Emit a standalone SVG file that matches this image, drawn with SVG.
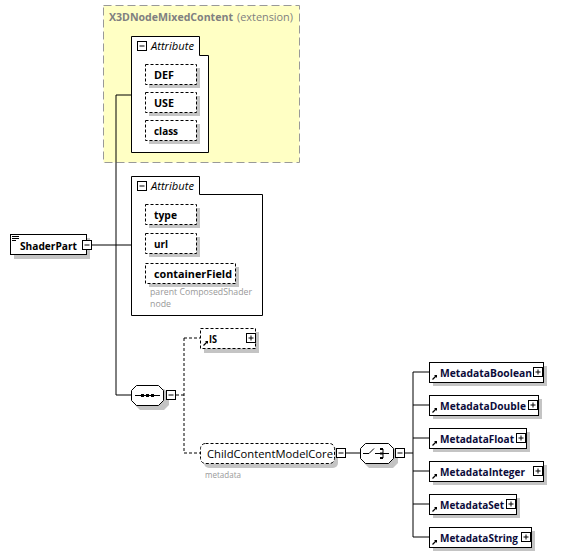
<svg xmlns="http://www.w3.org/2000/svg" width="571" height="556" viewBox="0 0 571 556">
<style>
.t{font-family:"Open Sans","Noto Sans","Liberation Sans",sans-serif;font-size:11px;fill:#000}
.b{font-weight:bold}
.nav{fill:#0b0b3a}
.g{fill:#808080}
.sm{font-size:9px;fill:#999}
.it{font-style:italic}
.box{fill:#fff;stroke:#000;stroke-width:1}
.dbox{fill:#fff;stroke:#000;stroke-width:1;stroke-dasharray:3,2}
.sh{fill:#c4c4c4}
.ln{fill:none;stroke:#000;stroke-width:1}
.dl{fill:none;stroke:#000;stroke-width:1;stroke-dasharray:3,2}
.pm{fill:#fff;stroke:#000;stroke-width:1}
</style>
<defs>
<g id="minus"><rect class="pm" x="0.5" y="0.5" width="9" height="9"/><path class="ln" d="M2.5,5H7.5"/></g>
<g id="plus"><rect class="pm" x="0.5" y="0.5" width="9" height="9"/><path class="ln" d="M2.5,5H7.5M5,2.5V7.5"/></g>
<g id="ref"><path d="M0.5,5.5L4,2" stroke="#000" stroke-width="1.2" fill="none"/><path d="M2,1H5V4Z" fill="#000"/></g>
</defs>

<g id="ext">
<rect x="103.5" y="5.5" width="196" height="157" fill="#ffffc4" stroke="#999" stroke-dasharray="8,4"/>
<text class="t b g" x="109" y="21" textLength="124" lengthAdjust="spacingAndGlyphs">X3DNodeMixedContent</text>
<text class="t g" x="237" y="21" textLength="56" lengthAdjust="spacingAndGlyphs">(extension)</text>
</g>

<g id="attr1">
<path class="box" d="M131.5,36.5H199.5V55.5H208.5V152.5H131.5Z"/>
<use href="#minus" x="137" y="41"/>
<text class="t it" x="151" y="50" textLength="43" lengthAdjust="spacingAndGlyphs">Attribute</text>
</g>
<g id="DEF"><rect class="sh" x="149" y="68" width="51" height="20"/><rect class="dbox" x="145.5" y="64.5" width="51" height="20"/><text class="t b" x="154" y="79" textLength="20" lengthAdjust="spacingAndGlyphs">DEF</text></g>
<g id="USE"><rect class="sh" x="149" y="96" width="51" height="20"/><rect class="dbox" x="145.5" y="92.5" width="51" height="20"/><text class="t b" x="154" y="107" textLength="20" lengthAdjust="spacingAndGlyphs">USE</text></g>
<g id="class"><rect class="sh" x="149" y="124" width="51" height="20"/><rect class="dbox" x="145.5" y="120.5" width="51" height="20"/><text class="t b" x="154" y="135" textLength="24" lengthAdjust="spacingAndGlyphs">class</text></g>

<g id="attr2">
<path class="box" d="M131.5,176.5H199.5V194.5H262.5V315.5H131.5Z"/>
<use href="#minus" x="137" y="181"/>
<text class="t it" x="151" y="190" textLength="43" lengthAdjust="spacingAndGlyphs">Attribute</text>
<text class="t sm" x="150" y="295" textLength="102" lengthAdjust="spacingAndGlyphs">parent ComposedShader</text>
<text class="t sm" x="150" y="307" textLength="21" lengthAdjust="spacingAndGlyphs">node</text>
</g>
<g id="type"><rect class="sh" x="149" y="208" width="51" height="20"/><rect class="dbox" x="145.5" y="204.5" width="51" height="20"/><text class="t b" x="154" y="219" textLength="23" lengthAdjust="spacingAndGlyphs">type</text></g>
<g id="url"><rect class="sh" x="149" y="237" width="51" height="20"/><rect class="dbox" x="145.5" y="233.5" width="51" height="20"/><text class="t b" x="154" y="248" textLength="14" lengthAdjust="spacingAndGlyphs">url</text></g>
<g id="containerField"><rect class="sh" x="149" y="267" width="90" height="20"/><rect class="dbox" x="145.5" y="263.5" width="90" height="20"/><text class="t b" x="154" y="278" textLength="78" lengthAdjust="spacingAndGlyphs">containerField</text></g>

<g id="ShaderPart">
<rect class="sh" x="14" y="238" width="76" height="21"/>
<rect class="box" x="10.5" y="234.5" width="76" height="20"/>
<path class="ln" d="M12,236.5H19M12,238.5H19M12,240.5H16"/>
<text class="t b" x="20" y="250" textLength="57" lengthAdjust="spacingAndGlyphs">ShaderPart</text>
<use href="#minus" x="82" y="240"/>
</g>

<g id="connectors">
<path class="ln" d="M92,245H132"/>
<path class="ln" d="M116,95V395M116,95H131M116,395H131"/>
<path class="dl" d="M176,395H184M184,338V453M184,338H200M184,453H200"/>
<path class="ln" d="M346,453H360M404,453H413M413,372V537M413,372H429M413,405H429M413,438H429M413,471H429M413,504H429M413,537H429"/>
</g>

<g id="sequence">
<path class="sh" d="M140,389H164L169,394V405L164,410H140L135,405V394Z"/>
<path class="box" d="M136.5,385.5H158.5L163.5,390.5V400.5L158.5,405.5H136.5L131.5,400.5V390.5Z"/>
<path class="ln" d="M135,395.5H160"/>
<rect x="141" y="394" width="3" height="3" fill="#000"/><rect x="146" y="394" width="3" height="3" fill="#000"/><rect x="151" y="394" width="3" height="3" fill="#000"/>
<use href="#minus" x="166" y="390"/>
</g>

<g id="IS">
<rect class="sh" x="204" y="332" width="55" height="21"/>
<rect class="dbox" x="200.5" y="328.5" width="55" height="20"/>
<use href="#ref" x="203" y="340"/>
<text class="t b" x="209" y="343" textLength="8" lengthAdjust="spacingAndGlyphs">IS</text>
<use href="#plus" x="246" y="333"/>
</g>

<g id="ChildContentModelCore">
<rect class="sh" x="204" y="447" width="134" height="21" rx="5"/>
<rect class="dbox" x="200.5" y="443.5" width="134" height="20" rx="5"/>
<text class="t" x="207" y="458" textLength="126" lengthAdjust="spacingAndGlyphs">ChildContentModelCore</text>
<text class="t sm" x="205" y="478" textLength="36" lengthAdjust="spacingAndGlyphs">metadata</text>
<use href="#minus" x="336" y="448"/>
</g>

<g id="choice">
<path class="sh" d="M369,447H393L398,452V463L393,468H369L364,463V452Z"/>
<path class="box" d="M365.5,443.5H388.5L393.5,448.5V458.5L388.5,463.5H365.5L360.5,458.5V448.5Z"/>
<path class="ln" d="M363,453.5H369L374,448.5M375,453.5H378M383,449V458M378,453.5H389"/>
<rect x="380" y="448" width="3" height="2" fill="#000"/><rect x="380" y="452.5" width="3" height="2" fill="#000"/><rect x="380" y="457" width="3" height="2" fill="#000"/>
<use href="#minus" x="395" y="448"/>
</g>

<g id="MetadataBoolean"><rect class="sh" x="433" y="366" width="114" height="20"/><rect class="box" x="429.5" y="362.5" width="114" height="20"/><use href="#ref" x="432" y="374"/><text class="t b nav" x="440" y="377" textLength="92" lengthAdjust="spacingAndGlyphs">MetadataBoolean</text><use href="#plus" x="533" y="367"/></g>
<g id="MetadataDouble"><rect class="sh" x="433" y="399" width="109" height="20"/><rect class="box" x="429.5" y="395.5" width="109" height="20"/><use href="#ref" x="432" y="407"/><text class="t b nav" x="440" y="410" textLength="86" lengthAdjust="spacingAndGlyphs">MetadataDouble</text><use href="#plus" x="528" y="400"/></g>
<g id="MetadataFloat"><rect class="sh" x="433" y="432" width="97" height="20"/><rect class="box" x="429.5" y="428.5" width="97" height="20"/><use href="#ref" x="432" y="440"/><text class="t b nav" x="440" y="443" textLength="74" lengthAdjust="spacingAndGlyphs">MetadataFloat</text><use href="#plus" x="516" y="433"/></g>
<g id="MetadataInteger"><rect class="sh" x="433" y="465" width="114" height="20"/><rect class="box" x="429.5" y="461.5" width="114" height="20"/><use href="#ref" x="432" y="473"/><text class="t b nav" x="440" y="476" textLength="85" lengthAdjust="spacingAndGlyphs">MetadataInteger</text><use href="#plus" x="533" y="466"/></g>
<g id="MetadataSet"><rect class="sh" x="433" y="498" width="87" height="20"/><rect class="box" x="429.5" y="494.5" width="87" height="20"/><use href="#ref" x="432" y="506"/><text class="t b nav" x="440" y="509" textLength="64" lengthAdjust="spacingAndGlyphs">MetadataSet</text><use href="#plus" x="506" y="499"/></g>
<g id="MetadataString"><rect class="sh" x="433" y="531" width="102" height="20"/><rect class="box" x="429.5" y="527.5" width="102" height="20"/><use href="#ref" x="432" y="539"/><text class="t b nav" x="440" y="542" textLength="78" lengthAdjust="spacingAndGlyphs">MetadataString</text><use href="#plus" x="521" y="532"/></g>
</svg>
